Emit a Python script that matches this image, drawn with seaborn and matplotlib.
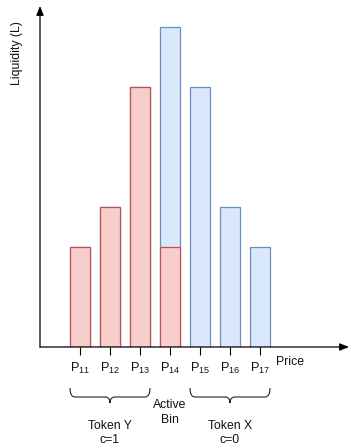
import matplotlib
matplotlib.use("Agg")
import matplotlib.pyplot as plt
from matplotlib.path import Path
from matplotlib.patches import PathPatch
import seaborn as sns
import pandas as pd

# ---- data ----
bins = ["P$_{11}$", "P$_{12}$", "P$_{13}$", "P$_{14}$", "P$_{15}$", "P$_{16}$", "P$_{17}$"]
token_y = [5, 7, 13, 5, 0, 0, 0]     # red (Token Y) liquidity
token_x = [0, 0, 0, 11, 13, 7, 5]    # blue (Token X) liquidity
groups = ["Token Y\nc=1", "Active\nBin", "Token X\nc=0"]

RED_FILL, RED_EDGE = "#f8cecc", "#b85450"
BLUE_FILL, BLUE_EDGE = "#dae8fc", "#6c8ebf"

sns.set_style("white")
plt.rcParams["font.family"] = ["Liberation Sans", "DejaVu Sans"]
plt.rcParams["mathtext.fontset"] = "custom"
plt.rcParams["mathtext.rm"] = "Liberation Sans"
plt.rcParams["mathtext.it"] = "Liberation Sans"
plt.rcParams["text.color"] = "#111111"

FS = 8.8
W, H = 359, 448
fig = plt.figure(figsize=(W / 100, H / 100), dpi=100)
ax = fig.add_axes([40 / W, (H - 347) / H, (349 - 40) / W, (347 - 7) / H])

df = pd.DataFrame({"bin": bins, "y": token_y, "x": token_x})
df["total"] = df["y"] + df["x"]

sns.barplot(data=df, x="bin", y="total", order=bins, color=BLUE_FILL,
            edgecolor=BLUE_EDGE, linewidth=0.9, width=2 / 3, saturation=1, ax=ax)
n_blue = len(ax.patches)
sns.barplot(data=df, x="bin", y="y", order=bins, color=RED_FILL,
            edgecolor=RED_EDGE, linewidth=0.9, width=2 / 3, saturation=1, ax=ax)
for p in ax.patches:
    if p.get_height() == 0:
        p.set_visible(False)

# pixel mapping: bin centre 0 -> x px 80, 30 px per bin; 20 px per liquidity unit
ax.set_xlim((40 - 80) / 30, (349 - 80) / 30)
ax.set_ylim(0, (347 - 7) / 20)


def px(xp, yp):
    return (xp - 80) / 30, (347 - yp) / 20


for s in ax.spines.values():
    s.set_visible(False)
ax.set_xlabel("")
ax.set_ylabel("")
ax.set_yticks([])
ax.set_xticks(range(len(bins)))
ax.set_xticklabels(bins, fontsize=9.2, color="#111111")
ax.tick_params(axis="x", direction="out", length=5.8, width=0.8, color="black",
               pad=4, bottom=True)

# axis arrows
arrow = dict(arrowstyle="-|>,head_length=0.55,head_width=0.22",
             color="black", lw=0.9, shrinkA=0, shrinkB=0)
ax.annotate("", xy=px(349, 347), xytext=px(40, 347), arrowprops=arrow,
            annotation_clip=False)
ax.annotate("", xy=px(40, 6), xytext=px(40, 347), arrowprops=arrow,
            annotation_clip=False)

ax.text(*px(290, 362), "Price", ha="center", va="center", fontsize=FS, clip_on=False)
ax.text(*px(17, 53), "Liquidity (L)", ha="center", va="center", rotation=90,
        fontsize=FS, clip_on=False)


def brace(xl, xr, ytop, ymid, ytip, r=5):
    xm = (xl + xr) / 2
    verts = [px(xl, ytop), px(xl, ymid), px(xl + r, ymid),
             px(xm - r, ymid), px(xm, ymid), px(xm, ytip),
             px(xm, ymid), px(xm + r, ymid),
             px(xr - r, ymid), px(xr, ymid), px(xr, ytop)]
    codes = [Path.MOVETO, Path.CURVE3, Path.CURVE3,
             Path.LINETO, Path.CURVE3, Path.CURVE3,
             Path.CURVE3, Path.CURVE3,
             Path.LINETO, Path.CURVE3, Path.CURVE3]
    ax.add_patch(PathPatch(Path(verts, codes), fill=False, edgecolor="#222222",
                           lw=0.8, clip_on=False))


brace(70, 150, 388, 397, 403)
brace(190, 270, 388, 397, 403)

ax.text(*px(110, 433), groups[0], ha="center", va="center", fontsize=FS,
        linespacing=1.3, clip_on=False)
ax.text(*px(170, 412.5), groups[1], ha="center", va="center", fontsize=FS,
        linespacing=1.3, clip_on=False)
ax.text(*px(230, 433), groups[2], ha="center", va="center", fontsize=FS,
        linespacing=1.3, clip_on=False)

fig.savefig("out.png", dpi=100)
